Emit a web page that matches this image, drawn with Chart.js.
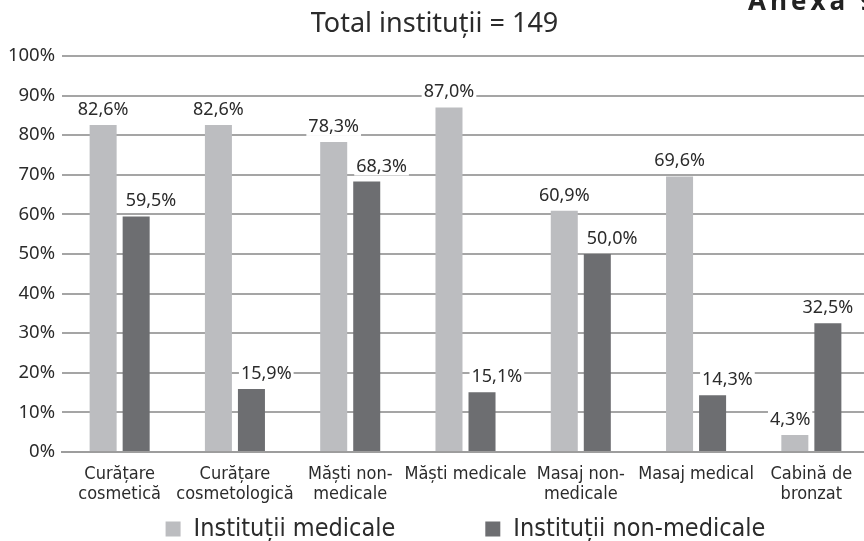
<!DOCTYPE html>
<html>
<head>
<meta charset="utf-8">
<script src="https://cdn.jsdelivr.net/npm/chart.js@4.4.0/dist/chart.umd.min.js"></script>
<style>
html, body { margin: 0; padding: 0; background: #fff; overflow: hidden; }
#wrap { position: relative; width: 864px; height: 541px; overflow: hidden; }
#chart { position: absolute; left: 0; top: 0; }
#anexa {
    position: absolute; left: 748px; top: -13px;
    font: bold 26px 'Open Sans', sans-serif; line-height: 1;
    letter-spacing: 4px; color: #222; white-space: nowrap;
}
</style>
</head>
<body>
<div id="wrap">
    <canvas id="chart" width="880" height="541"></canvas>
    <div id="anexa">Anexa 9</div>
</div>
<script>
// ---- date ----
const CATEGORIES = [
    ['Curățare', 'cosmetică'],
    ['Curățare', 'cosmetologică'],
    ['Măști non-', 'medicale'],
    'Măști medicale',
    ['Masaj non-', 'medicale'],
    'Masaj medical',
    ['Cabină de', 'bronzat']
];
const SERIES_NAMES = ['Instituții medicale', 'Instituții non-medicale'];
const MEDICAL = [82.6, 82.6, 78.3, 87.0, 60.9, 69.6, 4.3];
const NON_MEDICAL = [59.5, 15.9, 68.3, 15.1, 50.0, 14.3, 32.5];
const TITLE = 'Total instituții = 149';

const SANS = "'Noto Sans', 'Open Sans', sans-serif";
const NARROW = "'Liberation Sans Narrow', 'DejaVu Sans Condensed', sans-serif";
const TEXT = '#2b2b2b';

const fmt = v => v.toFixed(1).replace('.', ',') + '%';

// etichete de valoare deasupra barelor, cu fond alb
const valueLabels = {
    id: 'valueLabels',
    afterDatasetsDraw(chart) {
        const ctx = chart.ctx;
        ctx.save();
        ctx.font = '18px ' + SANS;
        ctx.textBaseline = 'alphabetic';
        chart.data.datasets.forEach((ds, di) => {
            const meta = chart.getDatasetMeta(di);
            const other = chart.data.datasets[1 - di].data;
            meta.data.forEach((bar, i) => {
                const text = fmt(ds.data[i]);
                const w = ctx.measureText(text).width;
                const half = bar.width / 2;
                let x = bar.x - w / 2;
                // mutam eticheta ca sa nu se suprapuna cu bara vecina mai inalta
                if (other[i] > ds.data[i]) {
                    x = di === 1 ? bar.x - half + 3 : bar.x + half + 2 - w;
                }
                const y = bar.y - 10;
                ctx.fillStyle = '#fff';
                ctx.fillRect(x - 2, y - 15, w + 4, 19);
                ctx.fillStyle = TEXT;
                ctx.fillText(text, x, y);
            });
        });
        ctx.restore();
    }
};

// legenda de jos, centrata pe zona graficului
const bottomLegend = {
    id: 'bottomLegend',
    afterDraw(chart) {
        const { ctx, chartArea } = chart;
        ctx.save();
        ctx.font = '25px ' + NARROW;
        ctx.textBaseline = 'middle';
        const box = 15, gapText = 13, gapItem = 90;
        const items = chart.data.datasets.map(ds => ({
            text: ds.label, color: ds.backgroundColor,
            w: box + gapText + ctx.measureText(ds.label).width
        }));
        const total = items.reduce((s, it) => s + it.w, 0) + gapItem * (items.length - 1);
        let x = (chartArea.left + chartArea.right) / 2 - total / 2;
        const y = chart.height - 12;
        items.forEach(it => {
            ctx.fillStyle = it.color;
            ctx.fillRect(x, y - box / 2, box, box);
            ctx.fillStyle = TEXT;
            ctx.fillText(it.text, x + box + gapText, y);
            x += it.w + gapItem;
        });
        ctx.restore();
    }
};

new Chart(document.getElementById('chart'), {
    type: 'bar',
    data: {
        labels: CATEGORIES,
        datasets: [{
            label: SERIES_NAMES[0],
            data: MEDICAL,
            backgroundColor: '#bcbdc0',
        }, {
            label: SERIES_NAMES[1],
            data: NON_MEDICAL,
            backgroundColor: '#6d6e71',
        }]
    },
    options: {
        responsive: false, animation: false,
        layout: { padding: { left: 0, right: 11, top: 0, bottom: 0 } },
        categoryPercentage: 0.573, barPercentage: 0.818,
        plugins: {
            legend: { display: false },
            tooltip: { enabled: false },
            title: {
                display: true, text: TITLE, color: TEXT,
                font: { family: SANS, size: 27, weight: 'normal' },
                padding: { top: 8, bottom: 15.6 }
            }
        },
        scales: {
            x: {
                grid: { display: false },
                border: { color: '#9d9d9d', width: 2 },
                ticks: {
                    color: TEXT, padding: 5, maxRotation: 0, autoSkip: false,
                    font: { family: NARROW, size: 18, lineHeight: 1.08 }
                },
                afterFit: s => { s.height = 89; }
            },
            y: {
                min: 0, max: 100,
                ticks: {
                    stepSize: 10, color: TEXT, padding: 7,
                    font: { family: SANS, size: 18.5 },
                    callback: v => v + '%'
                },
                grid: { color: '#a5a5a5', lineWidth: 2, drawTicks: false },
                border: { display: false },
                afterFit: s => { s.width = 62; }
            }
        }
    },
    plugins: [valueLabels, bottomLegend]
});
</script>
</body>
</html>
